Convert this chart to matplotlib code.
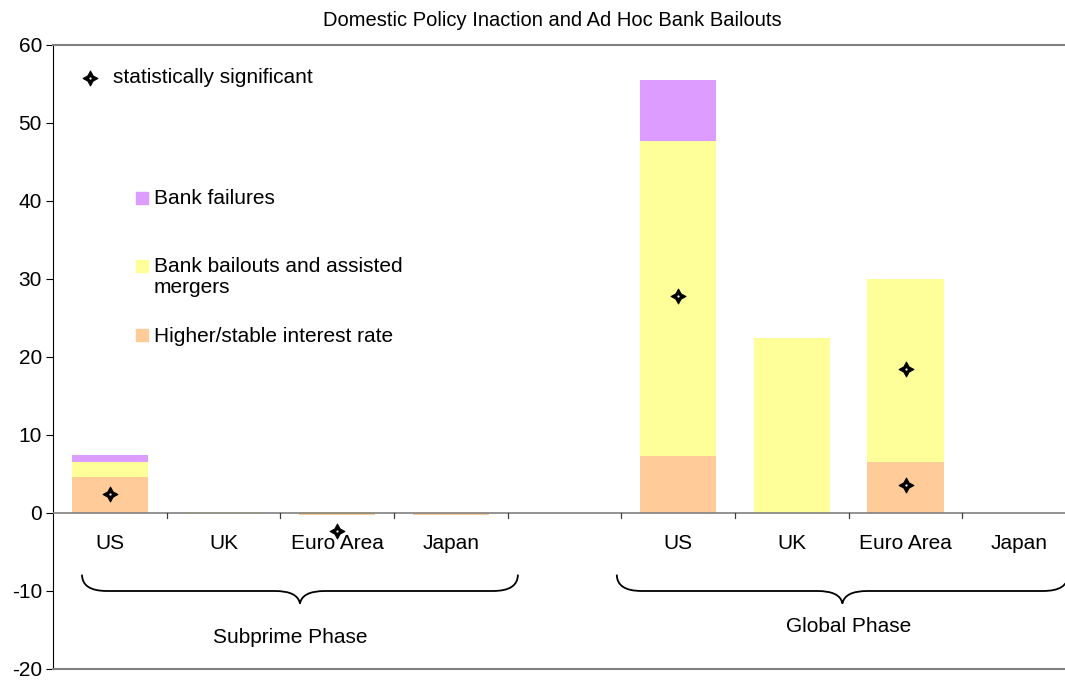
import matplotlib.pyplot as plt
import numpy as np
from matplotlib.path import Path
from matplotlib.patches import PathPatch

plt.rcParams['font.family'] = ['Liberation Sans', 'DejaVu Sans']
plt.rcParams['axes.unicode_minus'] = False

#data
countries = ['US', 'UK', 'Euro Area', 'Japan', 'US', 'UK', 'Euro Area', 'Japan']
slots = [0, 1, 2, 3, 5, 6, 7, 8]
interest = [4.6, 0.0, -0.3, -0.2, 7.3, 0.0, 6.5, 0.0]
bailouts = [1.9, 0.15, 0.15, 0.0, 40.4, 22.5, 23.5, 0.0]
failures = [0.9, 0.0, 0.0, 0.0, 7.8, 0.0, 0.0, 0.0]
series_names = ['Higher/stable interest rate', 'Bank bailouts and assisted\nmergers', 'Bank failures']
colors = ['#FFCC99', '#FFFF99', '#DD9CFF']

#statistically significant points
sig_x = [0, 2, 5, 7, 7]
sig_y = [2.4, -2.3, 27.8, 18.4, 3.6]

phases = ['Subprime Phase', 'Global Phase']
phase_span = [(0, 3), (5, 8)]

fs = 15

fig = plt.figure(figsize=(10.65, 6.81), dpi=100)
ax = fig.add_axes([53/1065, 1-669/681, (1076-53)/1065, (669-45)/681])
ax.set_xlim(-0.5, 8.5)
ax.set_ylim(-20, 60)

#stacked bars, negatives stack downward
pos_bottom = np.zeros(len(slots))
neg_bottom = np.zeros(len(slots))
for vals, c in zip([interest, bailouts, failures], colors):
    vals = np.array(vals)
    bottom = np.where(vals >= 0, pos_bottom, neg_bottom)
    ax.bar(slots, vals, bottom=bottom, width=0.67, color=c, zorder=2)
    pos_bottom += np.clip(vals, 0, None)
    neg_bottom += np.clip(vals, None, 0)

#zero line and category ticks
ax.axhline(0, color='#808080', lw=1.2, zorder=3)
for b in np.arange(0.5, 9, 1):
    ax.plot([b, b], [0, -0.7], color='#404040', lw=0.9, zorder=3, clip_on=False)

for x, lab in zip(slots, countries):
    ax.text(x, -3.9, lab, ha='center', va='center', fontsize=fs)

#significance markers
def star(x, y, ms=11):
    ax.plot(x, y, marker=(4, 1, 0), ms=ms, color='black', mew=0.6, ls='none', zorder=5)
    ax.plot(x, y, marker='o', ms=1.6, color='white', mew=0, ls='none', zorder=6)

star(sig_x, sig_y)
star([-0.174], [55.8])
ax.text(0.03, 55.8, 'statistically significant', va='center', fontsize=fs)

#bar legend
leg_y = [40.4, 31.7, 22.8]
for yy, name, c in zip(leg_y, series_names[::-1], colors[::-1]):
    ax.scatter([0.28], [yy], marker='s', s=80, color=c, zorder=4)
    ax.text(0.385, yy + 1.1, name, va='top', fontsize=fs, linespacing=1.1)

#braces under each phase
def brace(x0, x1, top, flat, tip):
    cx = (x0 + x1) / 2
    r = 0.22
    verts = [(x0, top), (x0, flat), (x0 + r, flat),
             (cx - r, flat),
             (cx - 0.02, flat), (cx, tip),
             (cx + 0.02, flat), (cx + r, flat),
             (x1 - r, flat),
             (x1, flat), (x1, top)]
    codes = [Path.MOVETO, Path.CURVE3, Path.CURVE3,
             Path.LINETO,
             Path.CURVE3, Path.CURVE3,
             Path.CURVE3, Path.CURVE3,
             Path.LINETO,
             Path.CURVE3, Path.CURVE3]
    ax.add_patch(PathPatch(Path(verts, codes), fill=False, lw=1.3, color='black', clip_on=False))

brace(phase_span[0][0] - 0.245, phase_span[0][1] + 0.59, -7.9, -10.0, -11.6)
brace(phase_span[1][0] - 0.54, phase_span[1][1] + 0.43, -7.9, -10.0, -11.6)
ax.text(1.59, -16.0, phases[0], ha='center', va='center', fontsize=fs)
ax.text(6.5, -14.6, phases[1], ha='center', va='center', fontsize=fs)

#axes style
ax.set_xticks([])
ax.set_yticks(np.arange(-20, 61, 10))
ax.tick_params(axis='y', direction='out', length=5, labelsize=fs, pad=3)
ax.spines['right'].set_visible(False)
ax.spines['top'].set_color('#808080')
ax.spines['bottom'].set_color('#808080')
ax.spines['top'].set_linewidth(1.5)
ax.spines['bottom'].set_linewidth(1.5)
ax.spines['left'].set_color('black')

fig.text(552/1065, 1-20/681, 'Domestic Policy Inaction and Ad Hoc Bank Bailouts',
         ha='center', va='center', fontsize=14.5)

fig.savefig('out.png', dpi=100)
